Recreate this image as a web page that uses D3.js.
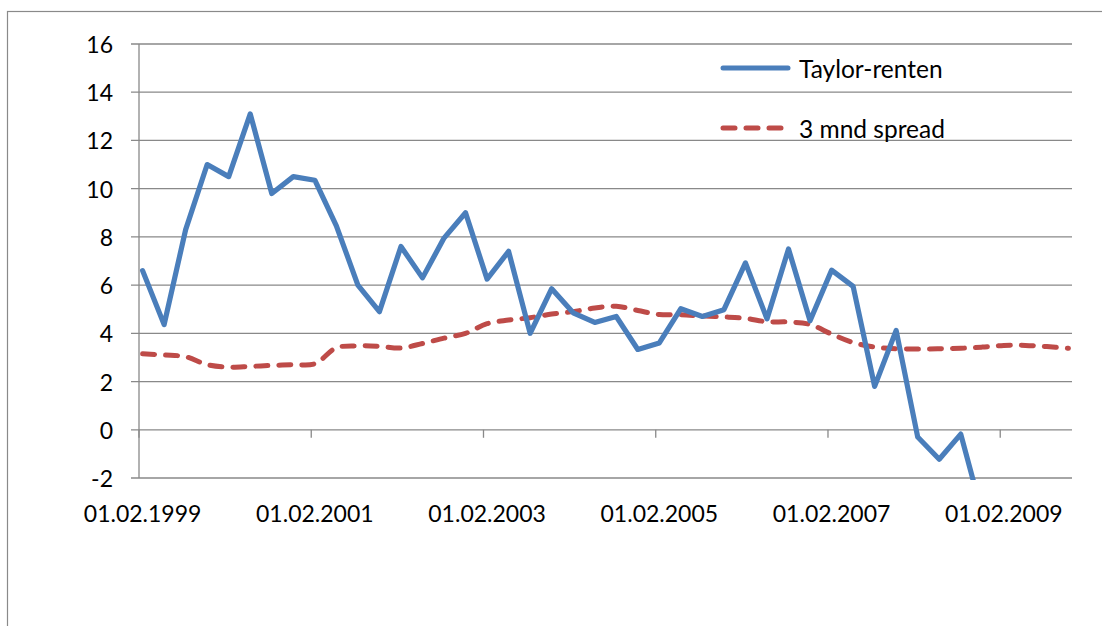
<!DOCTYPE html>
<html>
<head>
<meta charset="utf-8">
<script src="https://cdn.jsdelivr.net/npm/d3@7"></script>
<style>
  html, body { margin: 0; padding: 0; background: #fff; }
  svg { display: block; }
  text { font-family: Lato, "Open Sans", sans-serif; fill: #000; }
</style>
</head>
<body>
<svg id="chart" width="1102" height="626"></svg>
<script>
// ---- data ----
const categories = [
  "01.02.1999","01.05.1999","01.08.1999","01.11.1999",
  "01.02.2000","01.05.2000","01.08.2000","01.11.2000",
  "01.02.2001","01.05.2001","01.08.2001","01.11.2001",
  "01.02.2002","01.05.2002","01.08.2002","01.11.2002",
  "01.02.2003","01.05.2003","01.08.2003","01.11.2003",
  "01.02.2004","01.05.2004","01.08.2004","01.11.2004",
  "01.02.2005","01.05.2005","01.08.2005","01.11.2005",
  "01.02.2006","01.05.2006","01.08.2006","01.11.2006",
  "01.02.2007","01.05.2007","01.08.2007","01.11.2007",
  "01.02.2008","01.05.2008","01.08.2008","01.11.2008",
  "01.02.2009","01.05.2009","01.08.2009","01.11.2009"
];
const taylorRenten = [
  6.6, 4.36, 8.3, 11.0, 10.5, 13.1, 9.8, 10.5,
  10.35, 8.46, 6.0, 4.9, 7.6, 6.3, 7.95, 9.0,
  6.25, 7.4, 4.0, 5.85, 4.85, 4.45, 4.7, 3.33,
  3.6, 5.02, 4.7, 4.98, 6.92, 4.6, 7.5, 4.52,
  6.62, 5.95, 1.8, 4.12, -0.3, -1.22, -0.18, -3.5,
  null, null, null, null
];
const spread3mnd = [
  3.15, 3.1, 3.03, 2.7, 2.6, 2.63, 2.67, 2.7,
  2.74, 3.4, 3.48, 3.46, 3.39, 3.58, 3.8, 4.0,
  4.4, 4.55, 4.65, 4.8, 4.9, 5.05, 5.12, 4.95,
  4.78, 4.77, 4.72, 4.68, 4.62, 4.48, 4.47, 4.37,
  3.97, 3.62, 3.43, 3.36, 3.35, 3.36, 3.38, 3.43,
  3.5, 3.5, 3.45, 3.38
];
const xTickLabels = ["01.02.1999","01.02.2001","01.02.2003","01.02.2005","01.02.2007","01.02.2009"];
const yTicks = [-2, 0, 2, 4, 6, 8, 10, 12, 14, 16];
const seriesNames = ["Taylor-renten", "3 mnd spread"];

// ---- layout ----
const svg = d3.select("#chart");
const plot = { left: 139, right: 1072, top: 44, bottom: 478 };
const gridColor = "#898989";
const blue = "#4a7ebb";
const red = "#be4b48";

// month index for each category (quarterly)
const monthOf = c => {
  const [d, m, y] = c.split(".").map(Number);
  return (y - 1999) * 12 + (m - 2);
};
const x = d3.scaleLinear().domain([0, 130]).range([plot.left, plot.right]);
const y = d3.scaleLinear().domain([-2, 16]).range([plot.bottom, plot.top]);

// outer chart border
svg.append("rect")
  .attr("x", 7.5).attr("y", 11.5)
  .attr("width", 1200).attr("height", 700)
  .attr("fill", "none").attr("stroke", "#8a8a8a").attr("stroke-width", 1.2);

// horizontal gridlines (with tick stubs to the left of the axis)
svg.append("g").selectAll("line").data(yTicks).join("line")
  .attr("x1", plot.left - 8).attr("x2", plot.right)
  .attr("y1", d => y(d)).attr("y2", d => y(d))
  .attr("stroke", gridColor).attr("stroke-width", 1.3);

// y axis line
svg.append("line")
  .attr("x1", plot.left).attr("x2", plot.left)
  .attr("y1", y(16)).attr("y2", y(-2))
  .attr("stroke", gridColor).attr("stroke-width", 1.3);

// y tick labels
svg.append("g").selectAll("text").data(yTicks).join("text")
  .attr("x", 113).attr("y", d => y(d))
  .attr("text-anchor", "end").attr("dominant-baseline", "central")
  .style("font-size", "23px")
  .text(d => d);

// x axis tick marks hanging from the zero line
const tickMonths = xTickLabels.map(monthOf);
svg.append("g").selectAll("line").data(tickMonths).join("line")
  .attr("x1", d => x(d)).attr("x2", d => x(d))
  .attr("y1", y(0)).attr("y2", y(0) + 8)
  .attr("stroke", gridColor).attr("stroke-width", 1.3);

// x tick labels (low position)
svg.append("g").selectAll("text").data(xTickLabels).join("text")
  .attr("x", d => x(monthOf(d) + 0.5)).attr("y", 522)
  .attr("text-anchor", "middle")
  .style("font-size", "23px")
  .text(d => d);

// clip
svg.append("clipPath").attr("id", "clip")
  .append("rect").attr("x", plot.left).attr("y", plot.top - 6)
  .attr("width", plot.right - plot.left + 10).attr("height", plot.bottom - plot.top + 8);

const pts = arr => categories.map((c, i) => ({ m: monthOf(c) + 0.5, v: arr[i] }));

const lineStraight = d3.line()
  .defined(d => d.v !== null)
  .x(d => x(d.m)).y(d => y(d.v));
const lineSmooth = d3.line()
  .defined(d => d.v !== null)
  .curve(d3.curveCatmullRom.alpha(0.5))
  .x(d => x(d.m)).y(d => y(d.v));

const g = svg.append("g").attr("clip-path", "url(#clip)");
g.append("path").datum(pts(spread3mnd))
  .attr("d", lineSmooth)
  .attr("fill", "none").attr("stroke", red).attr("stroke-width", 5)
  .attr("stroke-dasharray", "12,11").attr("stroke-linecap", "round");
g.append("path").datum(pts(taylorRenten))
  .attr("d", lineStraight)
  .attr("fill", "none").attr("stroke", blue).attr("stroke-width", 5.2)
  .attr("stroke-linejoin", "round").attr("stroke-linecap", "round");

// legend
const legend = svg.append("g");
const legendItems = [
  { name: seriesNames[0], color: blue, dash: null, y: 68 },
  { name: seriesNames[1], color: red, dash: "12,11", y: 128 }
];
legendItems.forEach(it => {
  legend.append("line")
    .attr("x1", 723).attr("x2", it.dash ? 781 : 788)
    .attr("y1", it.y).attr("y2", it.y)
    .attr("stroke", it.color).attr("stroke-width", 5)
    .attr("stroke-linecap", "round")
    .attr("stroke-dasharray", it.dash);
  legend.append("text")
    .attr("x", 799).attr("y", it.y)
    .attr("dominant-baseline", "central")
    .style("font-size", "24.5px")
    .text(it.name);
});
</script>
</body>
</html>
